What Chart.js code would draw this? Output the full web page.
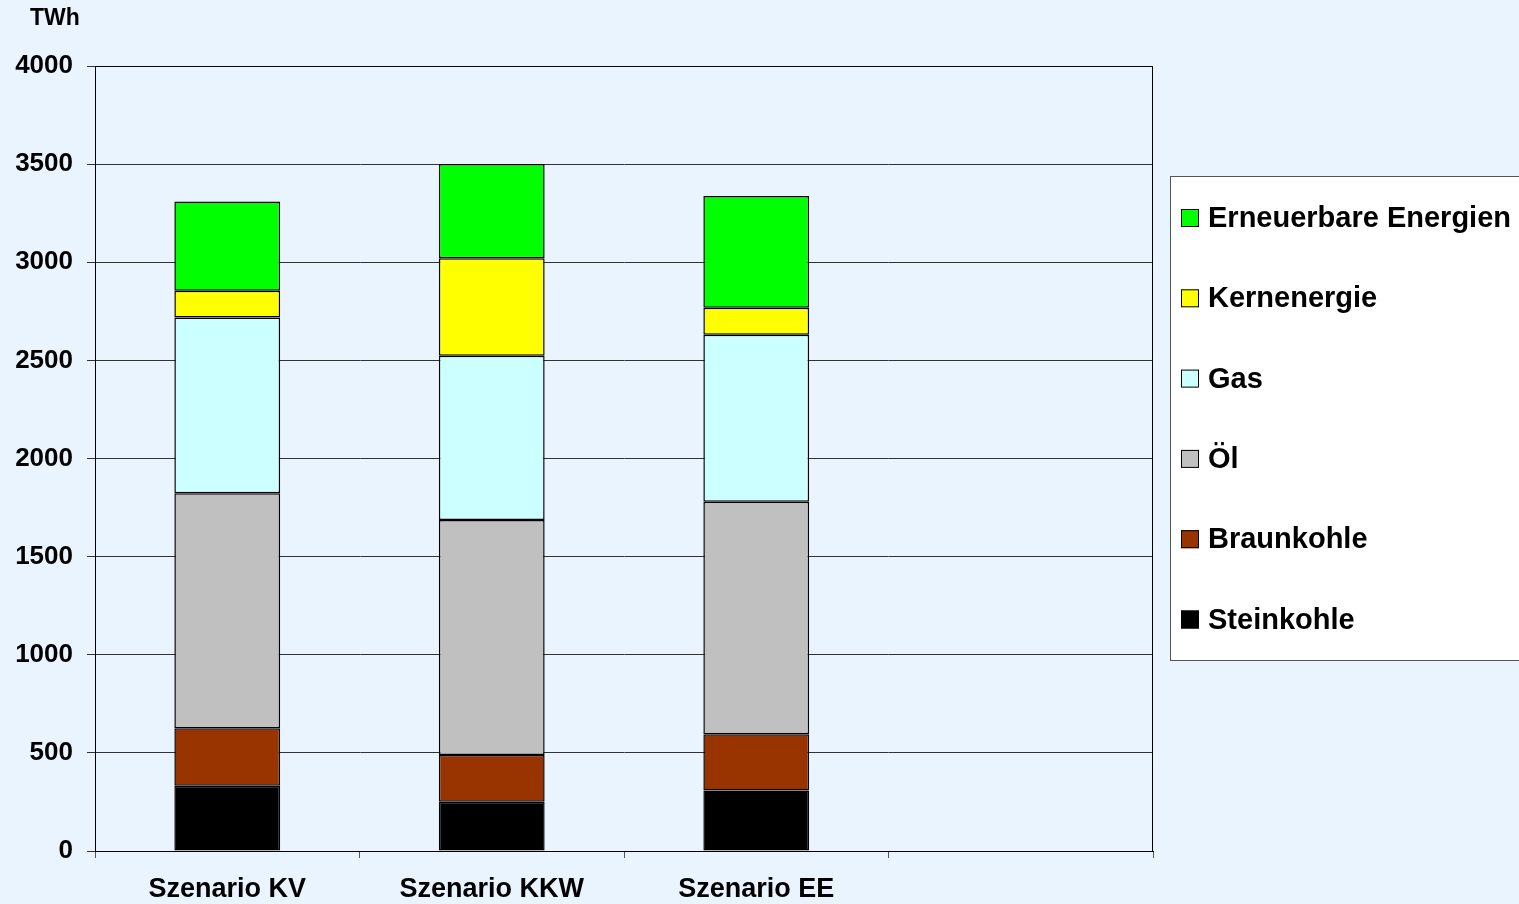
<!DOCTYPE html>
<html>
<head>
<meta charset="utf-8">
<script src="https://cdn.jsdelivr.net/npm/chart.js@4.4.1/dist/chart.umd.min.js"></script>
<style>
  html, body { margin: 0; padding: 0; background: #eaf4ff; }
  #wrap { width: 1519px; height: 904px; }
</style>
</head>
<body>
<div id="wrap"><canvas id="strom" width="1519" height="904"></canvas></div>
<script>
// Stromerzeugung je Szenario (TWh)
const szenarien = ['Szenario KV', 'Szenario KKW', 'Szenario EE', ''];
const steinkohle = [333, 251, 308, null];
const braunkohle = [292, 238, 287, null];
const oel = [1198, 1198, 1184, null];
const gas = [895, 837, 852, null];
const kernenergie = [137, 496, 137, null];
const erneuerbare = [454, 481, 570, null];
const yTicks = [0, 500, 1000, 1500, 2000, 2500, 3000, 3500, 4000];

const fontFam = '"Liberation Sans", Arial, sans-serif';

function serie(label, data, farbe) {
    return {
        label: label,
        data: data,
        backgroundColor: farbe,
        borderColor: '#000000',
        borderWidth: 1.5,
        borderSkipped: false,
        barPercentage: 1,
        categoryPercentage: 0.4
    };
}

// Rahmen, Einheit und Legende selbst zeichnen
const deko = {
    id: 'deko',
    afterDatasetsDraw(chart) {
        const c = chart.ctx;
        const a = chart.chartArea;
        c.save();
        c.strokeStyle = '#000';
        c.lineWidth = 1;
        c.strokeRect(a.left + 0.5, a.top + 0.5, a.right - a.left - 1, a.bottom - a.top);
        c.restore();
    },
    afterDraw(chart) {
        const c = chart.ctx;
        c.save();
        c.fillStyle = '#000';
        c.font = 'bold 23px ' + fontFam;
        c.textBaseline = 'middle';
        c.textAlign = 'left';
        c.fillText('TWh', 30, 19);

        // Legende
        c.fillStyle = '#ffffff';
        c.fillRect(1170, 176, 360, 484);
        c.strokeStyle = '#555';
        c.lineWidth = 1;
        c.strokeRect(1170.5, 176.5, 360, 484);
        const ds = chart.data.datasets.slice().reverse();
        c.font = 'bold 29px ' + fontFam;
        ds.forEach((d, i) => {
            const y = 218 + i * 80.3;
            c.fillStyle = d.backgroundColor;
            c.fillRect(1181, y - 9, 18, 18);
            c.strokeStyle = '#000';
            c.strokeRect(1181.5, y - 8.5, 17, 17);
            c.fillStyle = '#000';
            c.fillText(d.label, 1208, y + 1);
        });
        c.restore();
    }
};

new Chart(document.getElementById('strom'), {
    type: 'bar',
    data: {
        labels: szenarien,
        datasets: [
            serie('Steinkohle', steinkohle, '#000000'),
            serie('Braunkohle', braunkohle, '#993300'),
            serie('Öl', oel, '#c0c0c0'),
            serie('Gas', gas, '#ccffff'),
            serie('Kernenergie', kernenergie, '#ffff00'),
            serie('Erneuerbare Energien', erneuerbare, '#00ff00')
        ]
    },
    options: {
        responsive: false,
        animation: false,
        layout: { padding: { left: 0, top: 66, right: 366, bottom: 0 } },
        plugins: {
            legend: { display: false },
            tooltip: { enabled: false }
        },
        scales: {
            x: {
                stacked: true,
                grid: {
                    offset: true,
                    drawOnChartArea: false,
                    drawTicks: true,
                    tickLength: 7,
                    color: '#555'
                },
                border: { color: '#000' },
                ticks: {
                    color: '#000',
                    padding: 15,
                    font: { family: fontFam, size: 27, weight: 'bold' }
                },
                afterFit(s) { s.height = 53; }
            },
            y: {
                stacked: true,
                min: 0,
                max: 4000,
                afterBuildTicks(s) { s.ticks = yTicks.map(v => ({ value: v })); },
                grid: {
                    color: '#333',
                    lineWidth: 1,
                    tickLength: 8
                },
                border: { color: '#000' },
                ticks: {
                    color: '#000',
                    padding: 14,
                    callback: v => String(v),
                    font: { family: fontFam, size: 26, weight: 'bold' }
                },
                afterFit(s) { s.width = 95; }
            }
        }
    },
    plugins: [deko]
});
</script>
</body>
</html>
